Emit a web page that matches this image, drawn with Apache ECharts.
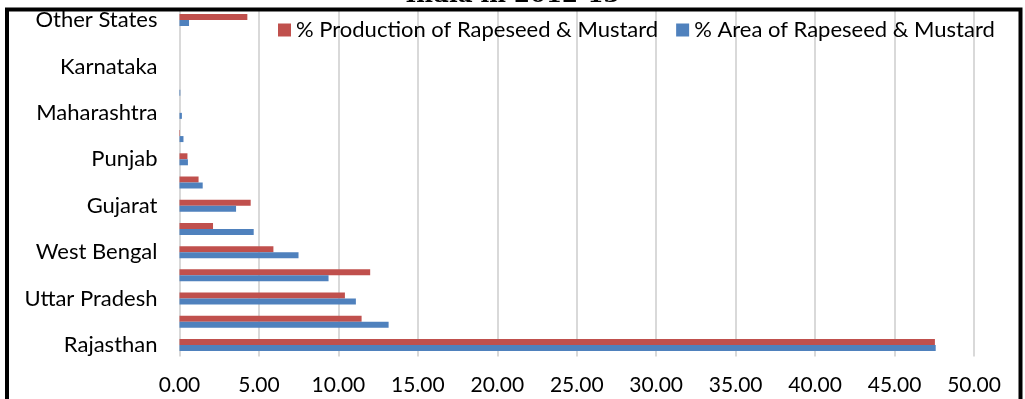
<!DOCTYPE html>
<html>
<head>
<meta charset="utf-8">
<script src="https://cdn.jsdelivr.net/npm/echarts@6/dist/echarts.min.js"></script>
<style>
  html, body { margin: 0; padding: 0; background: #ffffff; }
  #chart { width: 1025px; height: 399px; }
</style>
</head>
<body>
<div id="chart"></div>
<script>
// States, listed from the bottom row of the chart upwards
const states = [
  'Rajasthan', 'Madhya Pradesh', 'Uttar Pradesh', 'Haryana', 'West Bengal',
  'Assam', 'Gujarat', 'Bihar', 'Punjab', 'Jharkhand', 'Maharashtra',
  'Odisha', 'Karnataka', 'Chhattisgarh', 'Other States'
];

// Share of national rapeseed & mustard production (%)
const productionShare = [
  47.54, 11.46, 10.41, 12.00, 5.91, 2.11, 4.48, 1.20, 0.50, 0.03, 0.00, 0.00, 0.00, 0.00, 4.27
];

// Share of national rapeseed & mustard area (%)
const areaShare = [
  47.59, 13.16, 11.10, 9.38, 7.49, 4.67, 3.56, 1.46, 0.53, 0.25, 0.15, 0.05, 0.00, 0.00, 0.60
];

const seriesNames = ['% Production of Rapeseed & Mustard', '% Area of Rapeseed & Mustard'];
const titleText = 'India in 2012-13';

const textFont = 'Lato, "Open Sans", sans-serif';

const chart = echarts.init(document.getElementById('chart'), null, { renderer: 'canvas' });

chart.setOption({
  backgroundColor: '#ffffff',
  animation: false,
  grid: { left: 179.5, right: 51, top: 8.4, bottom: 42.4, containLabel: false },
  legend: {
    left: 273,
    top: 14,
    icon: 'rect',
    itemWidth: 13,
    itemHeight: 13,
    itemGap: 18,
    textStyle: { fontFamily: textFont, fontSize: 22, color: '#000000' },
    data: seriesNames
  },
  xAxis: {
    type: 'value',
    min: 0,
    max: 50,
    interval: 5,
    axisLine: { show: false },
    axisTick: { show: false },
    splitLine: { show: true, lineStyle: { color: '#d9d9d9', width: 2 } },
    axisLabel: {
      fontFamily: textFont,
      fontSize: 21,
      color: '#000000',
      margin: 18,
      formatter: v => v.toFixed(2)
    }
  },
  yAxis: {
    type: 'category',
    data: states,
    axisLine: { show: false },
    axisTick: { show: false },
    splitLine: { show: false },
    axisLabel: {
      interval: 1,
      fontFamily: textFont,
      fontSize: 22,
      color: '#000000',
      margin: 22
    }
  },
  series: [
    {
      name: seriesNames[0],
      type: 'bar',
      data: productionShare,
      barWidth: 6,
      barGap: '0%',
      itemStyle: { color: '#C0504D' }
    },
    {
      name: seriesNames[1],
      type: 'bar',
      data: areaShare,
      barWidth: 6,
      barGap: '0%',
      itemStyle: { color: '#4F81BD' }
    }
  ],
  graphic: [
    {
      type: 'text',
      left: 'center',
      top: -15,
      z: 100,
      style: {
        text: titleText,
        fontFamily: '"DejaVu Serif", serif',
        fontWeight: 'bold',
        fontSize: 23,
        fill: '#000000'
      }
    },
    {
      type: 'rect',
      z: 100,
      shape: { x: 7, y: 9.5, width: 1013.5, height: 420 },
      style: { fill: 'none', stroke: '#000000', lineWidth: 4 }
    }
  ]
});
</script>
</body>
</html>
